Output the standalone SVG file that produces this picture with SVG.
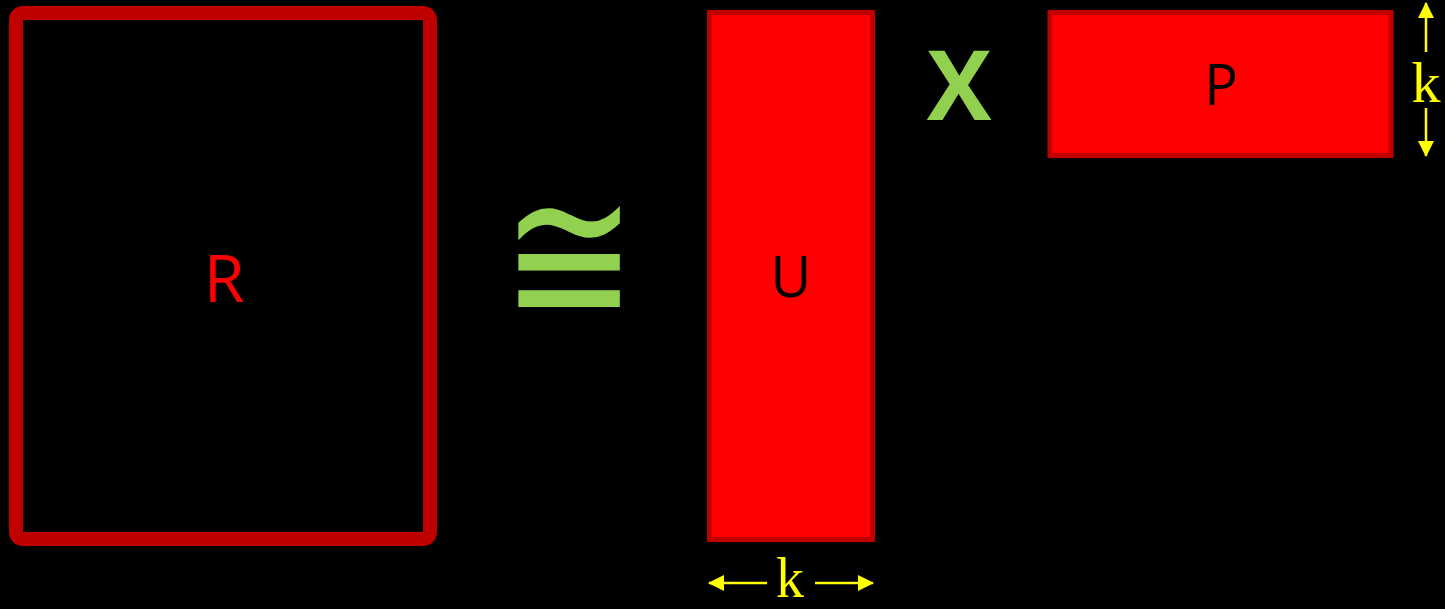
<svg xmlns="http://www.w3.org/2000/svg" width="1445" height="609" viewBox="0 0 1445 609">
<style>
.lbl{font-family:"Open Sans","Liberation Sans",sans-serif;text-anchor:middle}
.mat{fill:#FF0000;stroke:#C00000;stroke-width:5}
.dim{font-family:"Liberation Serif",serif;fill:#FFFF00;text-anchor:middle;font-size:58px}
.ar{stroke:#FFFF00;stroke-width:2.5;fill:none}
.op{fill:#92D050;font-family:"Open Sans","DejaVu Sans",sans-serif;text-anchor:middle}
</style>
<defs>
<marker id="ah" markerWidth="16" markerHeight="16" viewBox="0 0 16 16" refX="15" refY="8" orient="auto" markerUnits="userSpaceOnUse">
<path d="M0,0 L16,8 L0,16 Z" fill="#FFFF00"/>
</marker>
</defs>
<rect width="1445" height="609" fill="#000"/>
<g id="R">
<rect x="16" y="13" width="414" height="526" rx="7" fill="none" stroke="#C00000" stroke-width="14"/>
<text class="lbl" x="224" y="302" font-size="66" fill="#FF0000">R</text>
</g>
<g id="approx">
<text class="op" transform="translate(569,0) scale(1,1.24)" x="0" y="262.4" font-size="162">≅</text>
</g>
<g id="U">
<rect class="mat" x="709.5" y="12.5" width="163" height="527"/>
<text class="lbl" x="791" y="297" font-size="56" fill="#000">U</text>
</g>
<g id="times">
<text class="op" x="959" y="120" font-size="97" font-weight="bold">X</text>
</g>
<g id="P">
<rect class="mat" x="1050" y="12.5" width="341" height="143"/>
<text class="lbl" x="1221" y="105" font-size="56" fill="#000">P</text>
</g>
<g id="connectors">
<line class="ar" x1="767" y1="583" x2="709" y2="583" marker-end="url(#ah)"/>
<line class="ar" x1="815" y1="583" x2="873" y2="583" marker-end="url(#ah)"/>
<line class="ar" x1="1426" y1="52" x2="1426" y2="3" marker-end="url(#ah)"/>
<line class="ar" x1="1426" y1="108" x2="1426" y2="156" marker-end="url(#ah)"/>
</g>
<g id="dims">
<text class="dim" x="790" y="597" style="font-size:56px">k</text>
<text class="dim" x="1426" y="102">k</text>
</g>
</svg>
